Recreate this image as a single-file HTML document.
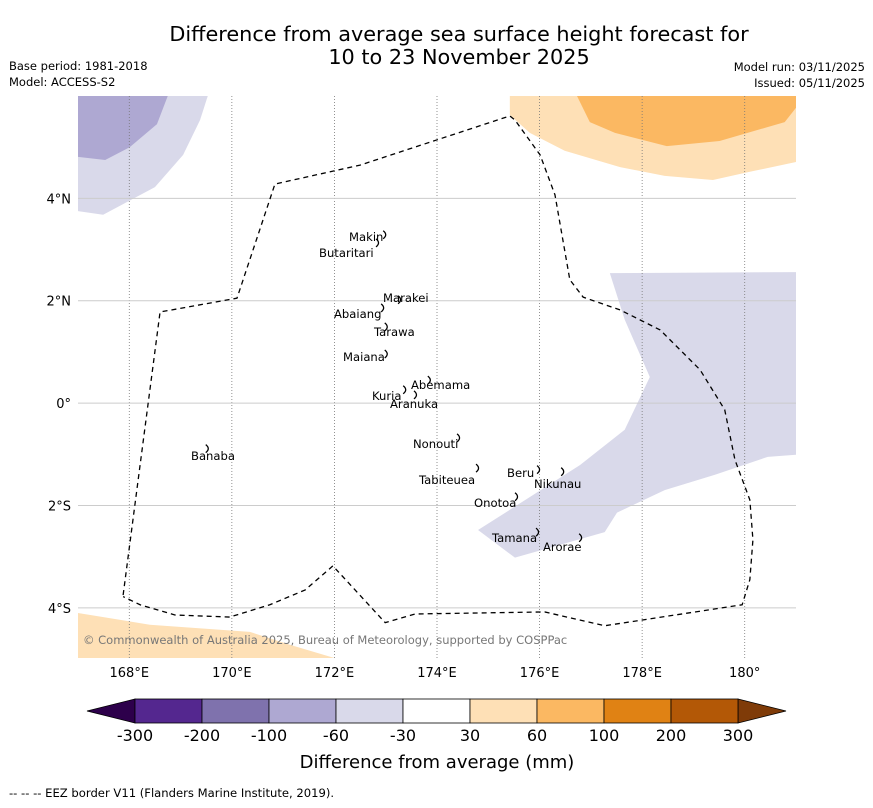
<!DOCTYPE html>
<html><head><meta charset="utf-8"><style>
body{margin:0;background:#fff;font-family:"DejaVu Sans","Liberation Sans",sans-serif;}
svg text{font-family:"DejaVu Sans","Liberation Sans",sans-serif;}
</style></head><body>
<svg id="c" width="873" height="804" xmlns="http://www.w3.org/2000/svg">
<rect width="873" height="804" fill="#fff"/>
<text x="459" y="41" font-size="20.8" text-anchor="middle">Difference from average sea surface height forecast for</text>
<text x="459" y="64" font-size="20.8" text-anchor="middle">10 to 23 November 2025</text>
<text x="9" y="70" font-size="11.5">Base period: 1981-2018</text>
<text x="9" y="86" font-size="11.5">Model: ACCESS-S2</text>
<text x="865" y="71" font-size="11.5" text-anchor="end">Model run: 03/11/2025</text>
<text x="865" y="87" font-size="11.5" text-anchor="end">Issued: 05/11/2025</text>
<g id="map"></g>
<g id="cb"></g>
<text x="437" y="768" font-size="18" text-anchor="middle">Difference from average (mm)</text>
<text x="9" y="797" font-size="11.6">--  --  -- EEZ border V11 (Flanders Marine Institute, 2019).</text>
</svg>
<script>
const lonTicks=[168,170,172,174,176,178,180];
const latTicks=[4,2,0,-2,-4];
const cbLabels=["-300","-200","-100","-60","-30","30","60","100","200","300"];
const cbColors=["#54278f","#7f72ad","#aea8d2","#d9d9ea","#ffffff","#fee0b6","#fbb862","#e08214","#b35806"];
const purpleA_lon=[167,168.75,168.54,168.01,167.53,167];
const purpleA_lat=[6,6,5.45,5.0,4.75,4.81];
const purpleB_lon=[167,169.53,169.38,169.05,168.5,167.49,167];
const purpleB_lat=[6,6,5.53,4.85,4.22,3.68,3.75];
const purpleC_lon=[177.37,181,181,180.45,179.42,178.44,177.51,177.27,175.52,174.8,176.79,177.66,178.15,177.66];
const purpleC_lat=[2.54,2.56,-1.01,-1.05,-1.4,-1.7,-2.14,-2.52,-3.02,-2.48,-1.21,-0.52,0.51,1.63];
const orangeA_lon=[175.42,181,181,180.1,179.38,178.44,177.57,176.49,175.81,175.42];
const orangeA_lat=[6,6,4.71,4.52,4.36,4.44,4.61,4.93,5.28,5.63];
const orangeB_lon=[176.73,181,181,180.78,179.51,178.48,177.47,176.98];
const orangeB_lat=[6,6,5.77,5.49,5.12,5.02,5.28,5.49];
const orangeC_lon=[167,168.4,170.35,171.13,172,167];
const orangeC_lat=[-4.1,-4.33,-4.47,-4.72,-4.98,-4.98];
const eez_lon=[167.88,168.6,170.1,170.84,172.5,175.42,175.52,176.01,176.3,176.59,176.85,177.57,178.35,179.13,179.61,179.81,180.1,180.16,180.1,179.95,177.27,176.1,173.57,172.99,171.97,171.43,170.74,169.96,168.89,168.21,167.88];
const eez_lat=[-3.75,1.78,2.05,4.28,4.65,5.61,5.53,4.85,4.07,2.41,2.07,1.82,1.43,0.65,-0.13,-1.11,-1.89,-2.67,-3.45,-3.94,-4.35,-4.08,-4.12,-4.29,-3.18,-3.65,-3.94,-4.18,-4.14,-3.94,-3.78];
const islandNames=["Makin","Butaritari","Marakei","Abaiang","Tarawa","Maiana","Abemama","Kuria","Aranuka","Nonouti","Banaba","Beru","Nikunau","Tabiteuea","Onotoa","Tamana","Arorae"];
const islandLon=[172.99,172.85,173.28,172.95,173.02,173.02,173.86,173.38,173.59,174.43,169.53,175.99,176.46,174.8,175.56,175.97,176.81];
const islandLat=[3.29,3.13,2.02,1.86,1.49,0.96,0.45,0.26,0.16,-0.68,-0.89,-1.3,-1.34,-1.27,-1.83,-2.52,-2.63];
const labelX=[349,319,383,334,374,343,411,372,390,413,191,507,534,419,474,492,543];
const labelY=[241,257,302,318,336,361,389,400,408,448,460,477,488,484,507,542,551];

const ns="http://www.w3.org/2000/svg";
const X0=78,X1=796,Y0=96,Y1=658,LON0=167,LON1=181,LAT0=6,LAT1=-4.98;
function x(l){return X0+(l-LON0)*(X1-X0)/(LON1-LON0);}
function y(l){return Y0+(LAT0-l)*(Y1-Y0)/(LAT0-LAT1);}
function mk(t,a,p){const e=document.createElementNS(ns,t);for(const k in a)e.setAttribute(k,a[k]);p.appendChild(e);return e;}
const map=document.getElementById('map');
function poly(lo,la,fill,name){const e=mk('polygon',{points:lo.map((v,i)=>x(v)+','+y(la[i])).join(' '),fill:fill},map);

}
poly(purpleB_lon,purpleB_lat,"#d9d9ea","region-neg-30-60-nw");
poly(purpleA_lon,purpleA_lat,"#aea8d2","region-neg-60-100-nw");
poly(purpleC_lon,purpleC_lat,"#d9d9ea","region-neg-30-60-east");
poly(orangeA_lon,orangeA_lat,"#fee0b6","region-30-60-ne");
poly(orangeB_lon,orangeB_lat,"#fbb862","region-60-100-ne");
poly(orangeC_lon,orangeC_lat,"#fee0b6","region-30-60-sw");
lonTicks.forEach(v=>{const g=mk('line',{x1:x(v),x2:x(v),y1:Y0,y2:Y1,stroke:"#777","stroke-width":0.8,"stroke-dasharray":"1,2"},map);


const t=mk('text',{x:x(v),y:677,"font-size":13,"text-anchor":"middle"},map);t.textContent=(v===180?"180°":v+"°E");

});
latTicks.forEach(v=>{const g=mk('line',{x1:X0,x2:X1,y1:y(v),y2:y(v),stroke:"#ccc","stroke-width":1},map);


const t=mk('text',{x:71,y:y(v)+5,"font-size":13,"text-anchor":"end"},map);t.textContent=(v===0?"0°":Math.abs(v)+"°"+(v>0?"N":"S"));

});
const ez=mk('polyline',{points:eez_lon.map((v,i)=>x(v)+','+y(eez_lat[i])).join(' '),fill:"none",stroke:"#000","stroke-width":1.3,"stroke-dasharray":"5,4"},map);


islandNames.forEach((n,i)=>{const m=mk('path',{d:`M${x(islandLon[i])-2},${y(islandLat[i])-4} q5,4 0,8`,stroke:"#000",fill:"none","stroke-width":1.3},map);


const t=mk('text',{x:labelX[i],y:labelY[i],"font-size":11.6},map);t.textContent=n;

});
const cr=mk('text',{x:83,y:644,"font-size":11.5,fill:"#777"},map);cr.textContent="© Commonwealth of Australia 2025, Bureau of Meteorology, supported by COSPPac";


const cb=document.getElementById('cb');
const CX0=135,CX1=738,CY=699,CH=24,w=(CX1-CX0)/cbColors.length;
const tl=mk('polygon',{points:`${CX0},${CY} 87,${CY+CH/2} ${CX0},${CY+CH}`,fill:"#2d004b",stroke:"#000","stroke-width":0.8},cb);


const tr=mk('polygon',{points:`${CX1},${CY} 786,${CY+CH/2} ${CX1},${CY+CH}`,fill:"#7f3b08",stroke:"#000","stroke-width":0.8},cb);


cbColors.forEach((c,i)=>{const r=mk('rect',{x:CX0+i*w,y:CY,width:w,height:CH,fill:c,stroke:"#000","stroke-width":0.8},cb);

});
cbLabels.forEach((l,i)=>{const t=mk('text',{x:CX0+i*w,y:741,"font-size":16,"text-anchor":"middle"},cb);t.textContent=l;

});
</script>
</body></html>
